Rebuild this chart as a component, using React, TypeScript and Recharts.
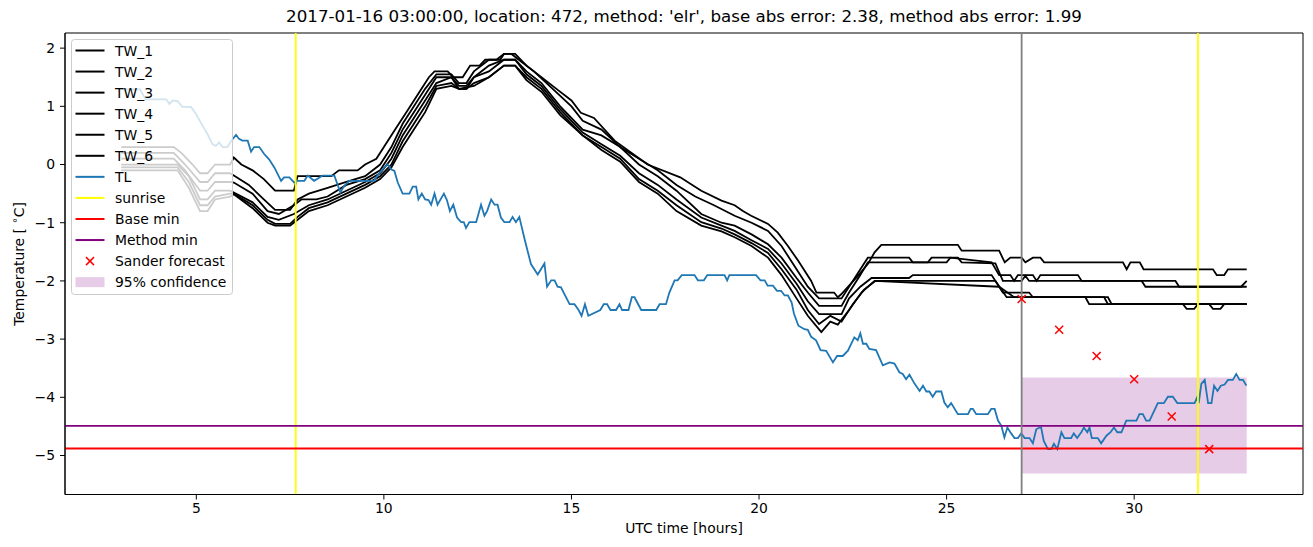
import React from 'react';
import { ComposedChart, Line, XAxis, YAxis, ReferenceLine, ReferenceArea, Scatter } from 'recharts';

const X_TICKS = [5, 10, 15, 20, 25, 30];
const Y_TICKS = [-5, -4, -3, -2, -1, 0, 1, 2];
const SUNRISE = [7.65, 31.7];
const FORECAST_START = 27;
const BASE_MIN = -4.88;
const METHOD_MIN = -4.49;
const CONF_X = [27, 33];
const CONF_Y = [-5.31, -3.66];
const SANDER_TIMES = [27, 28, 29, 30, 31, 32];
const SANDER_VALUES = [-2.31, -2.84, -3.29, -3.69, -4.33, -4.89];

const TW_1: [number, number][] = [
  [3.0, 0.3], [4.4, 0.3], [4.6, 0.2], [4.9, 0.0], [5.1, -0.15], [5.3, -0.15], [5.5, 0.0], [5.9, 0.0], [6.0, 0.12], [6.2, 0.0],
  [6.5, -0.1], [6.8, -0.25], [7.1, -0.45], [7.6, -0.45], [7.7, -0.2], [8.6, -0.2], [8.8, -0.1], [9.3, -0.1], [9.5, 0.0], [9.8, 0.1],
  [10.0, 0.3], [10.3, 0.6], [10.6, 0.9], [10.9, 1.2], [11.2, 1.5], [11.35, 1.6], [11.7, 1.6], [11.85, 1.5], [12.1, 1.5], [12.3, 1.7],
  [12.55, 1.7], [12.7, 1.8], [13.1, 1.8], [13.2, 1.9], [13.5, 1.9], [13.8, 1.7], [14.2, 1.5], [14.6, 1.3], [15.0, 1.1], [15.25, 0.89],
  [15.6, 0.8], [16.15, 0.41], [17.03, 0.0], [17.9, -0.22], [18.46, -0.45], [19.0, -0.62], [19.35, -0.7], [19.57, -0.8], [19.79, -0.88],
  [20.24, -1.02], [20.5, -1.17], [20.77, -1.4], [21.04, -1.65], [21.39, -2.0], [21.53, -2.2], [22.0, -2.2], [22.1, -2.28], [22.19, -2.23],
  [22.6, -1.94], [22.9, -1.71], [23.08, -1.51], [23.26, -1.38], [25.3, -1.38], [25.4, -1.48], [26.4, -1.48], [26.55, -1.68], [26.7, -1.6],
  [27.0, -1.6], [27.1, -1.68], [27.3, -1.6], [27.5, -1.6], [27.6, -1.68], [29.7, -1.68], [29.8, -1.8], [29.9, -1.68], [30.15, -1.68],
  [30.25, -1.8], [32.1, -1.8], [32.2, -1.9], [32.4, -1.9], [32.5, -1.8], [33.0, -1.8],
];

const TW_2: [number, number][] = [
  [3.0, 0.2], [4.4, 0.2], [4.7, 0.0], [5.1, -0.3], [5.3, -0.3], [5.5, -0.15], [5.9, -0.15], [6.0, -0.19], [6.4, -0.35], [6.8, -0.6],
  [7.1, -0.78], [7.5, -0.78], [7.7, -0.6], [8.0, -0.5], [8.5, -0.4], [9.0, -0.3], [9.5, -0.2], [9.9, 0.0], [10.2, 0.3], [10.5, 0.7],
  [10.8, 1.0], [11.1, 1.3], [11.4, 1.55], [11.8, 1.55], [12.0, 1.4], [12.2, 1.4], [12.4, 1.6], [12.8, 1.8], [13.0, 1.8], [13.2, 1.9],
  [13.4, 1.9], [13.7, 1.75], [14.0, 1.6], [14.5, 1.3], [15.0, 1.0], [15.3, 0.75], [15.8, 0.6], [16.3, 0.3], [16.8, 0.1], [17.3, -0.1],
  [17.8, -0.35], [18.3, -0.55], [18.8, -0.7], [19.35, -0.88], [19.8, -1.0], [20.24, -1.14], [20.6, -1.4], [21.0, -1.8], [21.3, -2.1],
  [21.6, -2.3], [22.2, -2.3], [22.5, -2.0], [22.9, -1.6], [24.0, -1.6], [24.1, -1.68], [25.0, -1.68], [25.1, -1.6], [26.2, -1.68],
  [26.4, -1.9], [26.7, -1.9], [26.8, -2.0], [26.9, -1.9], [27.3, -1.9], [27.4, -2.0], [27.5, -1.9], [28.5, -1.9], [28.6, -2.0],
  [30.2, -2.0], [30.3, -2.1], [32.85, -2.1], [33.0, -2.0],
];

const TW_3: [number, number][] = [
  [3.0, 0.1], [4.4, 0.1], [4.7, -0.1], [5.1, -0.45], [5.3, -0.45], [5.5, -0.3], [5.9, -0.3], [6.0, -0.31], [6.5, -0.5], [6.9, -0.8],
  [7.2, -0.85], [7.6, -0.7], [7.8, -0.6], [8.2, -0.6], [8.5, -0.55], [9.0, -0.35], [9.5, -0.25], [9.9, -0.1], [10.2, 0.2], [10.5, 0.6],
  [10.8, 0.9], [11.1, 1.2], [11.4, 1.5], [11.8, 1.5], [12.0, 1.35], [12.2, 1.35], [12.4, 1.5], [12.8, 1.7], [13.2, 1.8], [13.5, 1.8],
  [13.8, 1.6], [14.2, 1.4], [14.7, 1.0], [15.3, 0.6], [15.8, 0.5], [16.3, 0.3], [16.8, 0.0], [17.3, -0.2], [17.8, -0.45], [18.46, -0.85],
  [19.0, -1.0], [19.35, -1.05], [19.8, -1.2], [20.24, -1.37], [20.6, -1.6], [21.0, -1.95], [21.3, -2.2], [21.6, -2.43], [22.2, -2.43],
  [22.4, -2.2], [22.7, -1.9], [22.9, -1.68], [24.5, -1.68], [24.6, -1.6], [25.3, -1.6], [25.4, -1.68], [26.3, -1.7], [26.5, -2.0],
  [27.0, -2.0], [27.1, -1.91], [27.2, -2.0], [31.1, -2.0], [31.2, -2.1], [33.0, -2.1],
];

const TW_4: [number, number][] = [
  [3.0, 0.0], [4.5, 0.0], [4.8, -0.2], [5.1, -0.6], [5.3, -0.6], [5.5, -0.45], [5.9, -0.45], [6.0, -0.48], [6.5, -0.65], [6.9, -0.9],
  [7.2, -0.95], [7.6, -0.85], [8.0, -0.7], [8.5, -0.6], [9.0, -0.45], [9.5, -0.3], [9.9, -0.15], [10.2, 0.1], [10.5, 0.5], [10.8, 0.8],
  [11.1, 1.1], [11.4, 1.4], [11.8, 1.5], [12.0, 1.3], [12.2, 1.3], [12.4, 1.5], [12.8, 1.6], [13.2, 1.8], [13.5, 1.8], [13.8, 1.55],
  [14.2, 1.35], [14.7, 0.95], [15.3, 0.55], [15.8, 0.35], [16.3, 0.15], [16.8, -0.15], [17.3, -0.35], [17.8, -0.6], [18.46, -0.91],
  [19.0, -1.05], [19.35, -1.14], [19.8, -1.3], [20.24, -1.45], [20.6, -1.7], [21.0, -2.05], [21.3, -2.35], [21.6, -2.57], [22.2, -2.57],
  [22.4, -2.3], [22.7, -2.1], [23.0, -1.95], [24.0, -1.95], [24.1, -1.9], [26.2, -1.9], [26.5, -2.2], [27.2, -2.2], [27.3, -2.28],
  [28.7, -2.28], [28.8, -2.4], [33.0, -2.4],
];

const TW_5: [number, number][] = [
  [3.0, -0.05], [4.5, -0.05], [4.8, -0.3], [5.1, -0.7], [5.3, -0.7], [5.5, -0.55], [5.9, -0.5], [6.0, -0.5], [6.5, -0.7], [6.9, -0.95],
  [7.1, -1.02], [7.5, -1.02], [7.7, -0.9], [8.0, -0.75], [8.5, -0.65], [9.0, -0.5], [9.5, -0.35], [9.9, -0.2], [10.2, 0.0], [10.5, 0.4],
  [10.8, 0.7], [11.1, 1.0], [11.4, 1.35], [11.8, 1.4], [12.0, 1.3], [12.2, 1.3], [12.4, 1.4], [12.8, 1.5], [13.2, 1.7], [13.5, 1.7],
  [13.8, 1.5], [14.2, 1.3], [14.7, 0.9], [15.3, 0.5], [15.8, 0.3], [16.3, 0.1], [16.8, -0.25], [17.3, -0.45], [17.8, -0.7], [18.46, -0.99],
  [19.0, -1.1], [19.35, -1.2], [19.8, -1.35], [20.24, -1.52], [20.6, -1.8], [21.0, -2.15], [21.3, -2.5], [21.6, -2.74], [21.9, -2.6],
  [22.2, -2.7], [22.5, -2.4], [22.8, -2.15], [23.1, -2.0], [26.3, -2.0], [26.6, -2.28], [29.2, -2.28], [29.3, -2.4], [31.3, -2.4],
  [31.4, -2.48], [31.6, -2.48], [31.7, -2.4], [33.0, -2.4],
];

const TW_6: [number, number][] = [
  [3.0, -0.1], [4.5, -0.1], [4.8, -0.4], [5.1, -0.8], [5.3, -0.8], [5.5, -0.6], [5.9, -0.55], [6.0, -0.51], [6.5, -0.75], [6.9, -1.0],
  [7.1, -1.05], [7.5, -1.05], [7.7, -0.95], [8.0, -0.8], [8.5, -0.7], [9.0, -0.55], [9.5, -0.4], [9.9, -0.25], [10.2, -0.05], [10.5, 0.3],
  [10.8, 0.6], [11.1, 0.9], [11.4, 1.3], [11.8, 1.35], [12.0, 1.3], [12.4, 1.35], [12.8, 1.5], [13.2, 1.7], [13.5, 1.7], [13.8, 1.45],
  [14.2, 1.25], [14.7, 0.85], [15.3, 0.5], [15.8, 0.25], [16.3, 0.05], [16.8, -0.3], [17.3, -0.5], [17.8, -0.8], [18.46, -1.05],
  [19.0, -1.15], [19.35, -1.25], [19.8, -1.4], [20.24, -1.6], [20.6, -1.9], [21.0, -2.3], [21.3, -2.6], [21.66, -2.88], [21.9, -2.7],
  [22.1, -2.75], [22.4, -2.5], [22.73, -2.2], [23.08, -2.0], [26.4, -2.1], [26.8, -2.28], [29.3, -2.28], [29.4, -2.4], [32.0, -2.4],
  [32.1, -2.48], [32.3, -2.48], [32.4, -2.4], [33.0, -2.4],
];

const TL: [number, number][] = [
  [3.0, 1.29], [3.5, 1.29], [3.65, 1.12], [4.2, 1.12], [4.28, 1.04], [4.37, 1.1], [4.5, 1.09], [4.63, 0.99], [4.86, 0.99], [5.0, 0.86],
  [5.12, 0.72], [5.3, 0.52], [5.43, 0.35], [5.52, 0.32], [5.61, 0.38], [5.7, 0.3], [5.83, 0.3], [5.97, 0.44], [6.06, 0.51], [6.14, 0.44],
  [6.23, 0.41], [6.37, 0.41], [6.46, 0.22], [6.54, 0.3], [6.68, 0.3], [6.81, 0.18], [6.94, 0.09], [7.08, -0.05], [7.26, -0.28], [7.34, -0.22],
  [7.48, -0.22], [7.61, -0.31], [7.7, -0.28], [7.88, -0.28], [7.97, -0.19], [8.14, -0.28], [8.37, -0.19], [8.68, -0.19], [8.84, -0.48],
  [8.94, -0.37], [9.08, -0.28], [9.74, -0.28], [9.83, -0.19], [10.01, -0.05], [10.1, 0.0], [10.19, -0.08], [10.28, -0.11], [10.37, -0.31],
  [10.5, -0.5], [10.68, -0.5], [10.77, -0.38], [10.86, -0.38], [10.92, -0.6], [11.01, -0.5], [11.1, -0.6], [11.19, -0.61], [11.26, -0.69],
  [11.35, -0.5], [11.43, -0.69], [11.6, -0.5], [11.68, -0.61], [11.76, -0.8], [11.85, -0.69], [11.95, -0.91], [12.06, -0.99], [12.13, -0.99],
  [12.19, -1.09], [12.28, -0.99], [12.46, -0.99], [12.59, -0.69], [12.68, -0.88], [12.75, -0.8], [12.86, -0.6], [12.95, -0.69], [13.03, -0.69],
  [13.12, -0.91], [13.21, -0.99], [13.35, -0.99], [13.43, -0.9], [13.52, -0.99], [13.61, -0.9], [13.75, -1.28], [13.92, -1.71], [14.1, -1.89],
  [14.28, -1.7], [14.35, -2.1], [14.46, -1.99], [14.55, -1.99], [14.63, -2.1], [14.72, -2.11], [14.95, -2.4], [15.08, -2.4], [15.19, -2.5],
  [15.27, -2.6], [15.36, -2.4], [15.45, -2.6], [15.77, -2.5], [15.86, -2.4], [15.95, -2.4], [16.04, -2.5], [16.19, -2.5], [16.28, -2.4],
  [16.35, -2.5], [16.52, -2.5], [16.61, -2.28], [16.68, -2.28], [16.86, -2.5], [17.26, -2.5], [17.35, -2.4], [17.52, -2.4], [17.61, -2.2],
  [17.75, -1.99], [17.83, -1.99], [17.94, -1.9], [18.28, -1.9], [18.37, -1.99], [18.53, -1.99], [18.62, -1.9], [19.08, -1.9], [19.15, -1.99],
  [19.21, -1.9], [19.92, -1.9], [20.04, -1.99], [20.15, -1.99], [20.23, -2.08], [20.37, -2.08], [20.48, -2.17], [20.59, -2.17], [20.68, -2.25],
  [20.77, -2.25], [20.87, -2.37], [20.93, -2.56], [21.05, -2.77], [21.21, -2.83], [21.3, -2.84], [21.39, -2.96], [21.52, -3.02], [21.64, -3.19],
  [21.79, -3.2], [21.97, -3.4], [22.08, -3.29], [22.23, -3.29], [22.37, -3.2], [22.54, -2.97], [22.63, -3.02], [22.7, -2.9], [22.77, -3.08],
  [22.86, -3.08], [22.94, -3.17], [23.12, -3.19], [23.3, -3.45], [23.48, -3.4], [23.61, -3.42], [23.74, -3.57], [23.83, -3.6], [23.92, -3.69],
  [24.01, -3.61], [24.14, -3.76], [24.28, -3.89], [24.37, -3.8], [24.46, -3.9], [24.54, -3.9], [24.63, -3.99], [24.72, -3.9], [24.86, -3.9],
  [24.94, -4.09], [25.03, -4.17], [25.12, -4.1], [25.3, -4.29], [25.57, -4.29], [25.64, -4.2], [25.7, -4.2], [25.79, -4.29], [26.1, -4.29],
  [26.19, -4.2], [26.28, -4.2], [26.37, -4.4], [26.46, -4.49], [26.54, -4.69], [26.62, -4.52], [26.72, -4.62], [26.81, -4.7], [26.9, -4.7],
  [26.99, -4.62], [27.08, -4.7], [27.21, -4.7], [27.3, -4.79], [27.39, -4.55], [27.48, -4.52], [27.52, -4.52], [27.59, -4.75], [27.7, -4.89],
  [27.79, -4.89], [27.86, -4.8], [27.95, -4.89], [28.06, -4.6], [28.14, -4.7], [28.32, -4.7], [28.39, -4.62], [28.48, -4.7], [28.59, -4.6],
  [28.66, -4.52], [28.75, -4.6], [28.81, -4.52], [28.87, -4.7], [29.03, -4.7], [29.12, -4.79], [29.26, -4.66], [29.37, -4.6], [29.46, -4.52],
  [29.55, -4.6], [29.66, -4.6], [29.79, -4.4], [30.06, -4.4], [30.14, -4.29], [30.23, -4.29], [30.32, -4.4], [30.41, -4.4], [30.63, -4.1],
  [30.79, -4.1], [30.9, -3.99], [31.03, -3.99], [31.15, -4.1], [31.61, -4.1], [31.68, -4.0], [31.72, -4.1], [31.79, -3.77], [31.88, -3.7],
  [31.97, -4.1], [32.06, -4.1], [32.13, -3.8], [32.22, -3.89], [32.31, -3.8], [32.41, -3.78], [32.5, -3.7], [32.63, -3.7], [32.72, -3.6],
  [32.81, -3.7], [32.9, -3.7], [32.99, -3.8],
];

const TW_SERIES = [TW_1, TW_2, TW_3, TW_4, TW_5, TW_6];
const TW_NAMES = ['TW_1', 'TW_2', 'TW_3', 'TW_4', 'TW_5', 'TW_6'];

const toRows = (pairs: [number, number][]) => pairs.map(([t, v]) => ({ t, v }));
const sanderRows = SANDER_TIMES.map((t, i) => ({ t, v: SANDER_VALUES[i] }));

const FONT = 'DejaVu Sans';
const FS = 13.9;
const fmt = (v: number) => String(v).replace('-', '\u2212');

const XMark = (props: any) => {
  const { cx, cy } = props;
  const s = 4;
  return (
    <g>
      <line x1={cx - s} y1={cy - s} x2={cx + s} y2={cy + s} stroke="#ff0000" strokeWidth={1.5} />
      <line x1={cx - s} y1={cy + s} x2={cx + s} y2={cy - s} stroke="#ff0000" strokeWidth={1.5} />
    </g>
  );
};

type LegendItem = { label: string; kind: 'line' | 'x' | 'patch'; color: string };
const LEGEND_ITEMS: LegendItem[] = [
  ...TW_NAMES.map((n) => ({ label: n, kind: 'line' as const, color: '#000000' })),
  { label: 'TL', kind: 'line', color: '#1f77b4' },
  { label: 'sunrise', kind: 'line', color: '#ffff00' },
  { label: 'Base min', kind: 'line', color: '#ff0000' },
  { label: 'Method min', kind: 'line', color: '#800080' },
  { label: 'Sander forecast', kind: 'x', color: '#ff0000' },
  { label: '95% confidence', kind: 'patch', color: '#800080' },
];

const LegendBox = () => {
  const x0 = 71.5, y0 = 39.5, w = 161, h = 255;
  const rowH = 21.06;
  const first = 50.5;
  return (
    <svg width={1313} height={547} style={{ position: 'absolute', left: 0, top: 0, pointerEvents: 'none' }}>
      <rect x={x0} y={y0} width={w} height={h} rx={3} fill="#ffffff" fillOpacity={0.8} stroke="#cccccc" strokeWidth={1} />
      {LEGEND_ITEMS.map((it, i) => {
        const cy = first + i * rowH;
        return (
          <g key={it.label}>
            {it.kind === 'line' && <line x1={75.5} x2={104.5} y1={cy} y2={cy} stroke={it.color} strokeWidth={2} />}
            {it.kind === 'x' && (
              <g>
                <line x1={86} y1={cy - 4} x2={94} y2={cy + 4} stroke={it.color} strokeWidth={1.5} />
                <line x1={86} y1={cy + 4} x2={94} y2={cy - 4} stroke={it.color} strokeWidth={1.5} />
              </g>
            )}
            {it.kind === 'patch' && <rect x={75.5} y={cy - 5} width={29} height={10} fill={it.color} fillOpacity={0.2} />}
            <text x={115} y={cy + 5} fontFamily={FONT} fontSize={FS} fill="#000">{it.label}</text>
          </g>
        );
      })}
    </svg>
  );
};

export default function App() {
  const tick = { fill: '#000', fontSize: FS, fontFamily: FONT };
  return (
    <div style={{ position: 'absolute', left: 0, top: 0, width: 1313, height: 547, background: '#fff', fontFamily: FONT }}>
      <ComposedChart width={1313} height={547} margin={{ top: 33, right: 10, bottom: 0, left: 0 }}>
        <XAxis
          dataKey="t"
          type="number"
          domain={[1.5, 34.5]}
          ticks={X_TICKS}
          allowDataOverflow
          height={52.5}
          tick={tick}
          tickSize={5}
          tickMargin={4}
          stroke="#000"
          tickLine={{ stroke: '#000' }}
          axisLine={{ stroke: '#000' }}
        />
        <YAxis
          type="number"
          domain={[-5.67, 2.26]}
          ticks={Y_TICKS}
          allowDataOverflow
          width={65}
          tick={tick}
          tickSize={5}
          tickMargin={5}
          tickFormatter={fmt}
          stroke="#000"
          tickLine={{ stroke: '#000' }}
          axisLine={{ stroke: '#000' }}
        />
        <ReferenceArea x1={CONF_X[0]} x2={CONF_X[1]} y1={CONF_Y[0]} y2={CONF_Y[1]} fill="#800080" fillOpacity={0.2} stroke="none" />
        {TW_SERIES.map((s, i) => (
          <Line key={TW_NAMES[i]} data={toRows(s)} dataKey="v" name={TW_NAMES[i]} type="linear" stroke="#000000" strokeWidth={1.8} dot={false} isAnimationActive={false} />
        ))}
        <Line data={toRows(TL)} dataKey="v" name="TL" type="linear" stroke="#1f77b4" strokeWidth={1.8} dot={false} isAnimationActive={false} />
        {SUNRISE.map((x) => (
          <ReferenceLine key={x} x={x} stroke="#ffff00" strokeWidth={1.8} />
        ))}
        <ReferenceLine y={BASE_MIN} stroke="#ff0000" strokeWidth={1.8} />
        <ReferenceLine y={METHOD_MIN} stroke="#800080" strokeWidth={1.8} />
        <ReferenceLine x={FORECAST_START} stroke="#808080" strokeWidth={1.8} />
        <Scatter data={sanderRows} dataKey="v" name="Sander forecast" shape={XMark} isAnimationActive={false} />
        <ReferenceArea x1={1.5} x2={34.5} y1={-5.67} y2={2.26} fill="none" stroke="#000" strokeWidth={1} />
      </ComposedChart>
      <LegendBox />
      <div style={{ position: 'absolute', left: 65, width: 1238, top: 6, textAlign: 'center', fontSize: 16.7, color: '#000', whiteSpace: 'nowrap' }}>
        2017-01-16 03:00:00, location: 472, method: 'elr', base abs error: 2.38, method abs error: 1.99
      </div>
      <div style={{ position: 'absolute', left: 65, width: 1238, top: 520, textAlign: 'center', fontSize: FS, color: '#000', whiteSpace: 'nowrap' }}>
        UTC time [hours]
      </div>
      <div style={{ position: 'absolute', left: 18, top: 264, width: 0, height: 0 }}>
        <div style={{ position: 'absolute', left: 0, top: 0, transform: 'translate(-50%, -50%) rotate(-90deg)', fontSize: FS, color: '#000', whiteSpace: 'nowrap' }}>
          Temperature [ <sup style={{ fontSize: 10 }}>∘</sup>C]
        </div>
      </div>
    </div>
  );
}
